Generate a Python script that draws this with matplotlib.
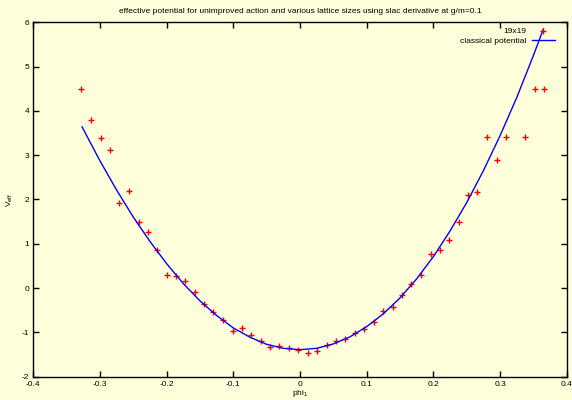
import numpy as np
import matplotlib.pyplot as plt

plt.rcParams['font.family'] = ['Liberation Sans', 'DejaVu Sans']
plt.rcParams['mathtext.default'] = 'regular'
plt.rcParams['axes.unicode_minus'] = False

# effective potential, 19x19 lattice
phi = [-0.328, -0.313, -0.299, -0.285, -0.271, -0.257, -0.242, -0.228, -0.214, -0.200,
       -0.186, -0.172, -0.158, -0.144, -0.130, -0.115, -0.101, -0.087, -0.073, -0.059,
       -0.045, -0.031, -0.016, -0.003, 0.012, 0.026, 0.040, 0.054, 0.068, 0.082,
       0.096, 0.111, 0.125, 0.139, 0.153, 0.167, 0.181, 0.196, 0.210, 0.224,
       0.238, 0.252, 0.266, 0.281, 0.295, 0.309, 0.338, 0.352, 0.366]
veff = [4.49, 3.79, 3.39, 3.11, 1.91, 2.19, 1.49, 1.27, 0.85, 0.30,
        0.27, 0.16, -0.08, -0.35, -0.53, -0.72, -0.96, -0.91, -1.07, -1.19,
        -1.32, -1.31, -1.35, -1.40, -1.46, -1.41, -1.28, -1.20, -1.15, -1.02,
        -0.92, -0.76, -0.52, -0.42, -0.16, 0.09, 0.30, 0.77, 0.85, 1.09,
        1.49, 2.09, 2.18, 3.40, 2.88, 3.40, 3.40, 4.49, 4.49]

# classical potential
phi_cl = [-0.327, -0.300, -0.275, -0.250, -0.225, -0.200, -0.175, -0.150, -0.125, -0.100,
          -0.075, -0.050, -0.025, 0.000, 0.025, 0.050, 0.075, 0.100, 0.125, 0.150,
          0.175, 0.200, 0.225, 0.250, 0.275, 0.300, 0.325, 0.350, 0.365]
v_cl = [3.64, 2.87, 2.21, 1.60, 1.05, 0.55, 0.10, -0.29, -0.62, -0.90,
        -1.11, -1.27, -1.36, -1.39, -1.36, -1.26, -1.10, -0.87, -0.58, -0.22,
        0.21, 0.71, 1.29, 1.93, 2.65, 3.44, 4.30, 5.25, 5.85]

xticks = [-0.4, -0.3, -0.2, -0.1, 0, 0.1, 0.2, 0.3, 0.4]
xticklabels = ['-0.4', '-0.3', '-0.2', '-0.1', '0', '0.1', '0.2', '0.3', '0.4']
yticks = [-2, -1, 0, 1, 2, 3, 4, 5, 6]

bg = '#ffffdc'
fig = plt.figure(figsize=(5.72, 4.0), dpi=100, facecolor=bg)
ax = fig.add_axes([0.0583, 0.0583, 0.9325, 0.886], facecolor=bg)

ax.plot(phi, veff, linestyle='none', marker='+', markersize=5, markeredgewidth=1,
        color='#ff0000', label='19x19')
ax.plot(phi_cl, v_cl, color='#0000ff', linewidth=1, label='classical potential')

ax.set_xlim(-0.4, 0.4)
ax.set_ylim(-2, 6)
ax.set_xticks(xticks)
ax.set_xticklabels(xticklabels)
ax.set_yticks(yticks)
ax.tick_params(direction='in', length=4, width=1, top=True, right=True,
               labelsize=6, pad=3, color='black')
for s in ax.spines.values():
    s.set_linewidth(1)

ax.set_title('effective potential for unimproved action and various lattice sizes '
             'using slac derivative at g/m=0.1', fontsize=6, pad=7)
ax.set_xlabel('phi$_1$', fontsize=6, labelpad=0)
ax.set_ylabel('V$_{eff}$', fontsize=6, labelpad=5)

ax.legend(loc='upper right', bbox_to_anchor=(0.978, 0.985), markerfirst=False,
          frameon=False, fontsize=6, numpoints=1, handlelength=2.8,
          handletextpad=0.6, labelspacing=0.15, borderpad=0, borderaxespad=0)

fig.savefig('out.png', dpi=100, facecolor=bg)
